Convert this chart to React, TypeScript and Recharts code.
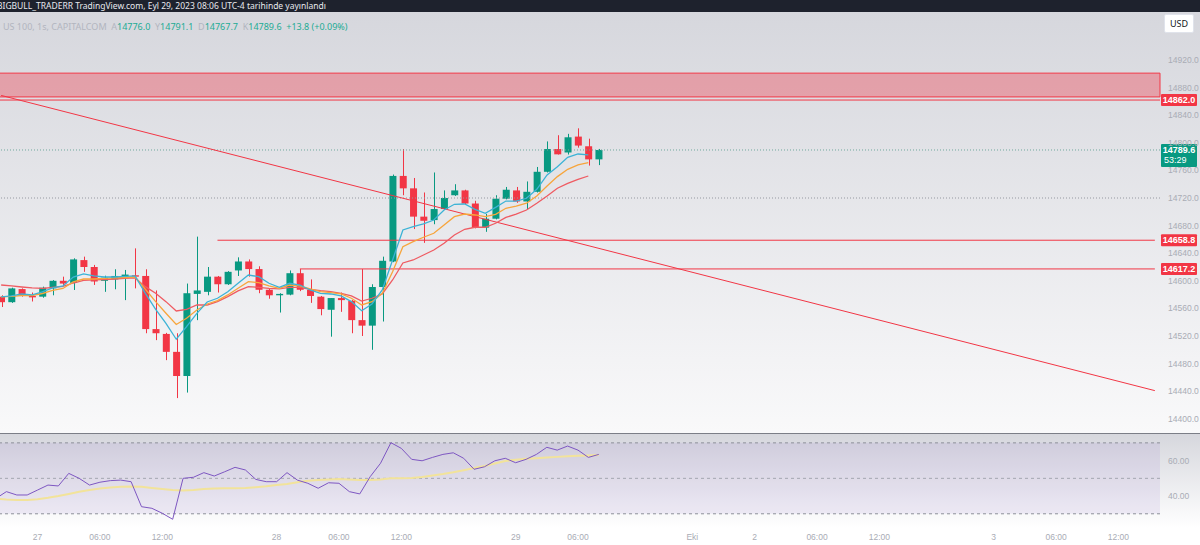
import React from "react"
import {
    ComposedChart,
    Bar,
    Line,
    XAxis,
    YAxis,
    ReferenceLine,
    ReferenceArea,
} from "recharts"

// hourly candles, US 100 (CAPITALCOM)
const OPEN = [14577, 14569, 14588, 14578, 14577, 14589, 14600, 14597, 14630, 14620, 14600, 14602, 14606, 14608, 14607, 14530, 14523, 14497, 14462, 14581, 14584, 14606, 14595, 14615, 14628, 14617, 14587, 14579, 14580, 14611, 14587, 14577, 14558, 14575, 14571, 14543, 14535, 14591, 14628, 14752, 14734, 14693, 14688, 14704, 14724, 14731, 14712, 14677, 14690, 14719, 14731, 14715, 14729, 14758, 14791, 14786, 14809, 14795, 14776.0]
const HIGH = [14579, 14590, 14589, 14583, 14591.5, 14601, 14606, 14632.6, 14635, 14623, 14607.4, 14616.7, 14615.7, 14647, 14616.7, 14586, 14524.5, 14524, 14596, 14664, 14620, 14607, 14614, 14634, 14631, 14621, 14589, 14582, 14615, 14617, 14602, 14578, 14575, 14583, 14572, 14617, 14595, 14635, 14754, 14791, 14749, 14728, 14757, 14731, 14740, 14732, 14716, 14697, 14724, 14736, 14736, 14744, 14765, 14802, 14811, 14813, 14821, 14806, 14791.1]
const LOW = [14562, 14568, 14577, 14570, 14575.5, 14579, 14594, 14586.7, 14613, 14594, 14584, 14587.7, 14572, 14589, 14524, 14514, 14485, 14430, 14438, 14543, 14579, 14583, 14594, 14607, 14606, 14582, 14574, 14554, 14579, 14585, 14568, 14550, 14519, 14555, 14524, 14520, 14500, 14541, 14627, 14724, 14675, 14655, 14682, 14703, 14723, 14711, 14676, 14671, 14689, 14718, 14713, 14704, 14728, 14757, 14783, 14783, 14793, 14767, 14767.7]
const CLOSE = [14569, 14589, 14578, 14576, 14590, 14600, 14596, 14631, 14620, 14599, 14604.5, 14607, 14609, 14606, 14530, 14524, 14497, 14462, 14582, 14586, 14606, 14595, 14613, 14628, 14617, 14587, 14579, 14581, 14611, 14587, 14578, 14559, 14575, 14572, 14543, 14535, 14591, 14629, 14752, 14734, 14693, 14687, 14704, 14720, 14731, 14712, 14677, 14690, 14719, 14732, 14715, 14729, 14758, 14791, 14783.3, 14808, 14796, 14776, 14789.6]

// moving averages (fast / mid / slow)
const MA_FAST = [14576.6, 14578, 14580.9, 14579.5, 14583.8, 14589.6, 14592.5, 14605.5, 14609.9, 14607, 14605.5, 14605.5, 14606.3, 14607, 14581.9, 14558.7, 14538.4, 14515.3, 14533.5, 14552.9, 14569.3, 14574.7, 14584.2, 14596.4, 14608.4, 14606, 14596.4, 14590.6, 14596.4, 14593.9, 14586.7, 14581.9, 14580.9, 14578, 14569.8, 14556.7, 14566.4, 14586.7, 14630.2, 14673.7, 14678.4, 14682.4, 14688.1, 14702.6, 14710.9, 14711.3, 14703.6, 14697.9, 14706.5, 14715.6, 14715.6, 14719.6, 14732.6, 14753.4, 14765.4, 14779, 14783.8, 14782.4]
const MA_MID = [14576.6, 14577.3, 14578.7, 14578.7, 14581.6, 14586, 14588.9, 14598.3, 14602.6, 14602.6, 14603.4, 14604.1, 14604.8, 14605.5, 14587.7, 14569.8, 14552.9, 14536.7, 14545.7, 14557.7, 14566.4, 14571.2, 14579.5, 14589.1, 14598.7, 14597.3, 14592.5, 14589.1, 14593.9, 14592.5, 14588.2, 14584.2, 14582.8, 14580.9, 14574.7, 14565, 14569.8, 14581.9, 14613.2, 14649.4, 14656.7, 14663.1, 14668.9, 14680.9, 14692.9, 14696.8, 14695.4, 14692.9, 14696.4, 14705.1, 14708.4, 14712.4, 14722.9, 14737.5, 14751, 14761.6, 14767.9, 14771.2]
const MA_SLOW = [14593.9, 14592.5, 14591, 14589.6, 14589.1, 14590.3, 14591.8, 14596.8, 14600.5, 14601.2, 14601.9, 14602.6, 14603.4, 14604.1, 14591.5, 14581.9, 14569.8, 14556.3, 14558.7, 14564.9, 14564.9, 14569.8, 14577, 14585.3, 14591.5, 14590.6, 14589.1, 14588.2, 14590.6, 14590.6, 14587.7, 14585.7, 14584.2, 14581.9, 14578, 14570.7, 14574.7, 14580.9, 14601.2, 14625.8, 14630.2, 14637.4, 14644.7, 14654.4, 14666.4, 14674.7, 14677.6, 14677.6, 14683.4, 14691.8, 14696.8, 14702.6, 14712.4, 14722.9, 14734.1, 14741.3, 14747.1, 14751.9]

// RSI pane
const RSI = [38.7, 42.5, 40.6, 40.6, 43.4, 46.2, 45.7, 52.8, 50, 46.2, 47.8, 48.7, 49, 48.1, 34, 33.1, 30.3, 26.9, 50, 50.6, 53.2, 51.3, 53.7, 56.2, 54.7, 49.4, 48.1, 48.1, 53.2, 49, 47.2, 44.4, 47.5, 47.2, 42.5, 41.2, 50.9, 58.5, 70.1, 66.9, 60.7, 59.9, 61.8, 63.5, 64.4, 61.3, 55.1, 56.5, 59.9, 61.3, 58.8, 60.7, 63.5, 67.5, 65.9, 68.2, 65.9, 61.8, 63.5]
const RSI_MA = [38.5, 38.0, 37.8, 37.8, 38.2, 39.0, 40.0, 41.2, 42.4, 43.4, 44.2, 44.8, 45.2, 45.4, 45.2, 44.6, 44.0, 43.4, 43.2, 43.4, 44.0, 44.3, 44.4, 44.4, 44.6, 45.0, 45.5, 46.2, 46.8, 47.8, 48.6, 49.0, 49.4, 49.6, 49.4, 49.0, 49.0, 49.4, 50.0, 50.0, 50.2, 50.8, 51.6, 52.4, 53.4, 54.6, 55.8, 57.0, 58.4, 59.8, 60.5, 61.0, 61.3, 61.7, 62.1, 62.5, 62.7, 62.9, 63.1]

const SLOTS = 113
const X_TICK_POS = [4, 10, 16, 27, 33, 39, 50, 56, 67, 73, 79, 85, 96, 102, 108]
const X_TICK_TEXT = ["27", "06:00", "12:00", "28", "06:00", "12:00", "29", "06:00", "Eki", "2", "06:00", "12:00", "3", "06:00", "12:00"]
const PRICE_TICKS = [14400, 14440, 14480, 14520, 14560, 14600, 14640, 14680, 14720, 14760, 14800, 14840, 14880, 14920]

const GREEN = "#089981"
const RED = "#f23645"
const AXIS_TEXT = "#a9acb5"
const AXIS_FONT = '"Liberation Sans", Arial, sans-serif'

const rows = Array.from({ length: SLOTS }, (_, i) => ({
    i,
    o: OPEN[i] ?? null,
    h: HIGH[i] ?? null,
    l: LOW[i] ?? null,
    c: CLOSE[i] ?? null,
    fast: MA_FAST[i] ?? null,
    mid: MA_MID[i] ?? null,
    slow: MA_SLOW[i] ?? null,
    rsi: RSI[i] ?? null,
    rsiMa: RSI_MA[i] ?? null,
}))

function Candle(props: any) {
    const { x, y, width, height, payload } = props
    if (payload == null || payload.o == null || !height) return null
    const { o, h, l, c } = payload
    const py = (p: number) => y + ((h - p) / (h - l)) * height
    const color = c >= o ? GREEN : RED
    const cx = Math.round(x + width / 2) + 0.5
    const top = py(Math.max(o, c))
    const bot = py(Math.min(o, c))
    return (
        <g>
            <line x1={cx} x2={cx} y1={y} y2={y + height} stroke={color} strokeWidth={1} />
            <rect x={x} y={top} width={width} height={Math.max(bot - top, 1.2)} fill={color} />
        </g>
    )
}

function priceTag(text: string, color: string, sub?: string) {
    return (props: any) => {
        const vb = props.viewBox
        const x = vb.x + vb.width + 1
        const y = vb.y
        const h = sub ? 23 : 12
        return (
            <g fontFamily={AXIS_FONT}>
                <rect x={x} y={y - 6} width={36} height={h} fill={color} rx={1} />
                <text x={x + 18} y={y + 3} textAnchor="middle" fill="#fff" fontSize={9} fontWeight={700}>
                    {text}
                </text>
                {sub && (
                    <text x={x + 3} y={y + 13.5} fill="#fff" fontSize={9}>
                        {sub}
                    </text>
                )}
            </g>
        )
    }
}

export default function App() {
    return (
        <div
            style={{
                position: "relative",
                width: 1200,
                height: 545,
                overflow: "hidden",
                background: "#fff",
                fontFamily: '"Noto Sans", "DejaVu Sans", sans-serif',
            }}
        >
            <style>{`body{margin:0}`}</style>

            {/* header */}
            <div style={{ position: "absolute", top: 0, left: 0, width: 1200, height: 12, background: "#1e222d" }}>
                <div style={{ position: "absolute", left: -3, top: 0, color: "#e8e9ed", fontSize: 8.5, lineHeight: "12px", whiteSpace: "nowrap" }}>
                    BIGBULL_TRADERR TradingView.com, Eyl 29, 2023 08:06 UTC-4 tarihinde yayınlandı
                </div>
            </div>

            {/* pane backgrounds */}
            <div style={{ position: "absolute", top: 12, left: 0, width: 1200, height: 421, background: "linear-gradient(180deg, #d6d7dd 0%, #f9f9fa 100%)" }} />
            <div style={{ position: "absolute", top: 434, left: 0, width: 1200, height: 111, background: "linear-gradient(180deg, #d6d7dd 0%, #ffffff 85%)" }} />
            <div style={{ position: "absolute", top: 432.5, left: 0, width: 1200, height: 1.5, background: "#7b7e87" }} />

            {/* price pane */}
            <div style={{ position: "absolute", top: 12, left: -3.65 }}>
                <ComposedChart width={1204} height={421} data={rows} margin={{ top: 0, right: 0, bottom: 0, left: 0 }}>
                    <XAxis dataKey="i" type="category" hide />
                    <YAxis
                        orientation="right"
                        width={40}
                        domain={[14379.4, 14989.6]}
                        ticks={PRICE_TICKS}
                        allowDataOverflow
                        axisLine={false}
                        tickLine={false}
                        tick={{ fill: AXIS_TEXT, fontSize: 8.5, fontFamily: AXIS_FONT }}
                        tickFormatter={(v: number) => v.toFixed(1)}
                    />
                    <ReferenceArea y1={14866.5} y2={14901} fill={RED} fillOpacity={0.36} stroke={RED} strokeWidth={1} />
                    <ReferenceLine y={14720} stroke="#9598a1" strokeDasharray="1 2" />
                    <ReferenceLine y={14789.6} stroke="#6fa79d" strokeDasharray="1 2" />
                    <ReferenceLine y={14862} stroke={RED} strokeWidth={1} />
                    <ReferenceLine segment={[{ x: 21, y: 14658.8 }, { x: 112, y: 14658.8 }]} stroke={RED} strokeWidth={1} />
                    <ReferenceLine segment={[{ x: 29, y: 14617.2 }, { x: 112, y: 14617.2 }]} stroke={RED} strokeWidth={1} />
                    <ReferenceLine segment={[{ x: 0, y: 14868.7 }, { x: 112, y: 14440.8 }]} stroke={RED} strokeWidth={1} />

                    <Bar
                        dataKey={(d: any) => (d.o == null ? null : [d.l, d.h])}
                        barSize={7}
                        shape={(p: any) => <Candle {...p} />}
                        isAnimationActive={false}
                    />
                    <Line dataKey="slow" stroke="#ef5b62" strokeWidth={1.3} dot={false} isAnimationActive={false} />
                    <Line dataKey="mid" stroke="#f7a53c" strokeWidth={1.3} dot={false} isAnimationActive={false} />
                    <Line dataKey="fast" stroke="#3cb3d6" strokeWidth={1.3} dot={false} isAnimationActive={false} />

                    <ReferenceLine y={14862} stroke="none" label={priceTag("14862.0", RED)} />
                    <ReferenceLine y={14658.8} stroke="none" label={priceTag("14658.8", RED)} />
                    <ReferenceLine y={14617.2} stroke="none" label={priceTag("14617.2", RED)} />
                    <ReferenceLine y={14789.6} stroke="none" label={priceTag("14789.6", GREEN, "53:29")} />
                </ComposedChart>
            </div>

            {/* legend */}
            <div style={{ position: "absolute", top: 20, left: 3, fontSize: 9, whiteSpace: "nowrap", color: "#b2b5be" }}>
                US 100, 1s, CAPITALCOM&nbsp;&nbsp;A<span style={{ color: "#22ab94" }}>14776.0</span>&nbsp;&nbsp;Y
                <span style={{ color: "#22ab94" }}>14791.1</span>&nbsp;&nbsp;D<span style={{ color: "#22ab94" }}>14767.7</span>
                &nbsp;&nbsp;K<span style={{ color: "#22ab94" }}>14789.6</span>&nbsp;&nbsp;
                <span style={{ color: "#22ab94" }}>+13.8 (+0.09%)</span>
            </div>

            {/* currency box */}
            <div
                style={{
                    position: "absolute",
                    top: 14,
                    left: 1164,
                    width: 28,
                    height: 17,
                    background: "#fff",
                    border: "1px solid #e0e3eb",
                    borderRadius: 2,
                    fontSize: 9,
                    color: "#131722",
                    textAlign: "center",
                    lineHeight: "17px",
                }}
            >
                USD
            </div>

            {/* RSI pane */}
            <div style={{ position: "absolute", top: 434, left: -3.65 }}>
                <ComposedChart width={1204} height={111} data={rows} margin={{ top: 0, right: 0, bottom: 0, left: 0 }}>
                    <XAxis
                        dataKey="i"
                        type="category"
                        height={25}
                        ticks={X_TICK_POS}
                        interval={0}
                        tickFormatter={(v: number) => X_TICK_TEXT[X_TICK_POS.indexOf(v)] ?? ""}
                        axisLine={false}
                        tickLine={false}
                        tickMargin={8}
                        tick={{ fill: AXIS_TEXT, fontSize: 8.5, fontFamily: AXIS_FONT }}
                    />
                    <YAxis
                        orientation="right"
                        width={40}
                        domain={[26.5, 75]}
                        ticks={[40, 60]}
                        allowDataOverflow
                        axisLine={false}
                        tickLine={false}
                        tick={{ fill: AXIS_TEXT, fontSize: 8.5, fontFamily: AXIS_FONT }}
                        tickFormatter={(v: number) => v.toFixed(2)}
                    />
                    <ReferenceArea y1={30} y2={70} fill="#7e57c2" fillOpacity={0.1} stroke="none" />
                    <ReferenceLine y={70} stroke="#8d909a" strokeDasharray="3 3" />
                    <ReferenceLine y={50} stroke="#a3a6b0" strokeDasharray="3 3" />
                    <ReferenceLine y={30} stroke="#8d909a" strokeDasharray="3 3" />
                    <Line dataKey="rsiMa" stroke="#f2e39a" strokeWidth={2} dot={false} isAnimationActive={false} />
                    <Line dataKey="rsi" stroke="#7e57c2" strokeWidth={1} dot={false} isAnimationActive={false} />
                </ComposedChart>
            </div>
        </div>
    )
}
